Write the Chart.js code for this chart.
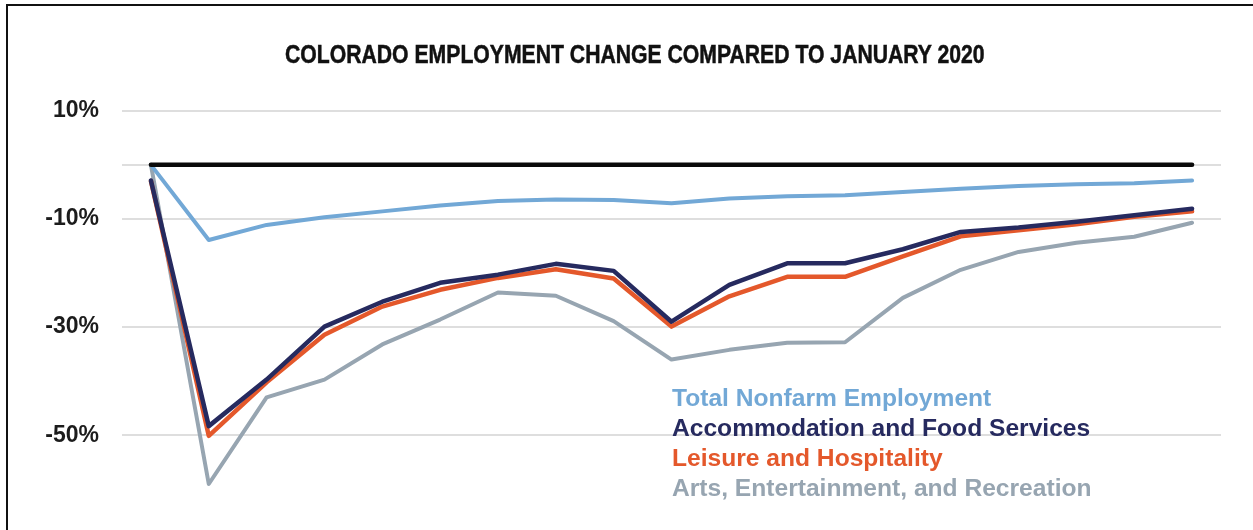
<!DOCTYPE html>
<html>
<head>
<meta charset="utf-8">
<script src="https://cdn.jsdelivr.net/npm/chart.js@4.4.1/dist/chart.umd.min.js"></script>
<style>
  body { margin: 0; background: #fff; }
  #wrap { position: relative; width: 1253px; height: 530px; overflow: hidden; }
  #frame { position: absolute; left: 6px; top: 4px; right: -10px; bottom: -10px;
           border-top: 2px solid #111; border-left: 2px solid #111; }
  #title { position: absolute; left: 285px; top: 42px; transform-origin: 0 0;
           font: bold 25px "Liberation Sans", Arial, sans-serif; -webkit-text-stroke: 0.5px #111;
           line-height: 25px; color: #111; white-space: nowrap; }
  #legend { position: absolute; left: 672px; top: 383px;
            font: bold 24.6px "Liberation Sans", Arial, sans-serif; line-height: 30px; }
  canvas { position: absolute; left: 0; top: 0; }
</style>
</head>
<body>
<div id="wrap">
  <canvas id="canvas" width="1253" height="530"></canvas>
  <div id="frame"></div>
  <div id="title">COLORADO EMPLOYMENT CHANGE COMPARED TO JANUARY 2020</div>
  <div id="legend"></div>
</div>
<script>
// monthly change vs January 2020 (%)
var months = ['Mar 2020','Apr 2020','May 2020','Jun 2020','Jul 2020','Aug 2020','Sep 2020','Oct 2020','Nov 2020','Dec 2020',
              'Jan 2021','Feb 2021','Mar 2021','Apr 2021','May 2021','Jun 2021','Jul 2021','Aug 2021','Sep 2021'];
var baseline     = [0, 0, 0, 0, 0, 0, 0, 0, 0, 0, 0, 0, 0, 0, 0, 0, 0, 0, 0];
var totalNonfarm = [0, -13.9, -11.1, -9.7, -8.6, -7.5, -6.7, -6.4, -6.5, -7.1, -6.2, -5.8, -5.6, -5.0, -4.4, -3.9, -3.6, -3.4, -2.9];
var accommodation = [-2.9, -48.3, -39.7, -29.9, -25.3, -21.8, -20.3, -18.3, -19.6, -29.0, -22.2, -18.2, -18.2, -15.6, -12.4, -11.6, -10.5, -9.3, -8.1];
var leisure      = [-3.0, -50.1, -40.2, -31.4, -26.2, -23.1, -20.9, -19.3, -21.0, -29.9, -24.3, -20.7, -20.7, -16.9, -13.2, -12.1, -11.0, -9.6, -8.6];
var arts         = [0, -59.0, -43.0, -39.7, -33.2, -28.6, -23.6, -24.2, -28.9, -36.0, -34.2, -32.9, -32.8, -24.6, -19.4, -16.1, -14.4, -13.3, -10.7];
var tickValues = [-50, -30, -10, 0, 10];

var seriesNames = ['Total Nonfarm Employment', 'Accommodation and Food Services', 'Leisure and Hospitality', 'Arts, Entertainment, and Recreation'];
var seriesColors = ['#72a8d6', '#262a5f', '#e4582b', '#97a5b1'];

function line(label, data, color, width) {
  return {
    label: label, data: data, borderColor: color, backgroundColor: color,
    borderWidth: width, pointRadius: 0, tension: 0, fill: false,
    borderCapStyle: 'round', borderJoinStyle: 'round'
  };
}

// squeeze the title to look like the condensed face of the original
var title = document.getElementById('title');
title.style.transform = 'scaleX(' + (700 / title.offsetWidth) + ')';

const ctx = document.getElementById('canvas').getContext('2d');
const myChart = new Chart(ctx, {
  type: 'line',
  data: {
    labels: months,
    datasets: [
      line('Colorado baseline', baseline, '#0a0a0a', 4.5),
      line(seriesNames[0], totalNonfarm, seriesColors[0], 4),
      line(seriesNames[1], accommodation, seriesColors[1], 4.5),
      line(seriesNames[2], leisure, seriesColors[2], 4.5),
      line(seriesNames[3], arts, seriesColors[3], 4)
    ]
  },
  options: {
    responsive: false,
    animation: false,
    layout: { padding: { left: 0, right: 32, top: 90.2, bottom: 21.8 } },
    plugins: { legend: { display: false }, tooltip: { enabled: false }, title: { display: false } },
    scales: {
      x: { display: false, offset: true },
      y: {
        min: -60.7, max: 13.8,
        afterBuildTicks: function(scale) {
          scale.ticks = tickValues.map(function(v){ return { value: v }; });
        },
        afterFit: function(scale) { scale.width = 122; },
        border: { display: false },
        grid: { color: '#dedede', lineWidth: 2, drawTicks: false },
        ticks: {
          padding: 23,
          color: '#1c1c1c',
          font: { family: 'Liberation Sans', weight: 'bold', size: 23 },
          callback: function(v) { return v === 0 ? '' : v + '%'; }
        }
      }
    }
  }
});

// text legend inside the plot
var legend = document.getElementById('legend');
seriesNames.forEach(function(name, i) {
  var d = document.createElement('div');
  d.textContent = name;
  d.style.color = seriesColors[i];
  legend.appendChild(d);
});
</script>
</body>
</html>
